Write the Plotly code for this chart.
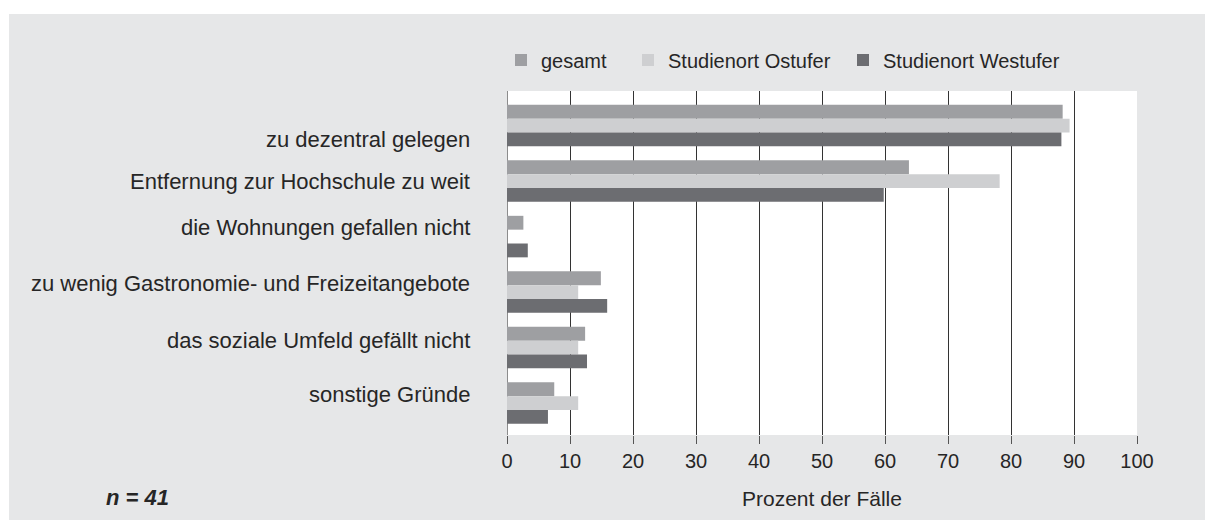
import plotly.graph_objects as go

# Gründe gegen den Wohnstandort (Prozent der Fälle, Mehrfachnennungen)
categories = [
    "zu dezentral gelegen",
    "Entfernung zur Hochschule zu weit",
    "die Wohnungen gefallen nicht",
    "zu wenig Gastronomie- und Freizeitangebote",
    "das soziale Umfeld gefällt nicht",
    "sonstige Gründe",
]
gesamt = [88.2, 63.8, 2.6, 14.9, 12.4, 7.5]
ostufer = [89.3, 78.2, 0.0, 11.3, 11.3, 11.3]
westufer = [88.0, 59.8, 3.3, 15.9, 12.7, 6.5]
series_names = ["gesamt", "Studienort Ostufer", "Studienort Westufer"]
x_ticks = list(range(0, 101, 10))
sample_note = "n = 41"
x_title = "Prozent der Fälle"

# page geometry (px)
W, H = 1205, 520
ML, MR, MT, MB = 507, 68, 91, 85
PW, PH = W - ML - MR, H - MT - MB


def px_x(px):
    return (px - ML) / PW


def px_y(py):
    return 1 - (py - MT) / PH


FONT = "Liberation Sans, Arial, sans-serif"
TEXT = "#262626"
PANEL = "#e6e7e8"
colors = ["#9e9fa2", "#cecfd1", "#6c6d71"]
legend_ids = ["legend", "legend2", "legend3"]
legend_text_px = [541, 668, 883]
# vertical nudge of each category label relative to its bar group
label_shift = [-14, 0, 9, 9, 7, 9]

fig = go.Figure()
for name, vals, col, lg in zip(series_names, [gesamt, ostufer, westufer], colors, legend_ids):
    fig.add_trace(go.Bar(
        y=list(range(len(categories))), x=vals, name=name, orientation="h",
        marker=dict(color=col, line=dict(width=0)), legend=lg,
        hoverinfo="x+name",
    ))

for i, cat in enumerate(categories):
    fig.add_annotation(
        x=0, xref="x", y=i, yref="y", text=cat, showarrow=False,
        xanchor="right", yanchor="middle", xshift=-35, yshift=label_shift[i],
        font=dict(family=FONT, size=22, color=TEXT),
    )

fig.add_annotation(
    x=0.5, xref="paper", y=px_y(498), yref="paper", text=x_title, showarrow=False,
    xanchor="center", yanchor="middle", font=dict(family=FONT, size=21, color=TEXT),
)
fig.add_annotation(
    x=px_x(137), xref="paper", y=px_y(497), yref="paper",
    text="<b><i>" + sample_note + "</i></b>", showarrow=False,
    xanchor="center", yanchor="middle", font=dict(family=FONT, size=22, color=TEXT),
)

# white page border above and left of the grey panel
fig.add_shape(type="rect", xref="paper", yref="paper", x0=px_x(-5), x1=px_x(W + 5),
              y0=px_y(14), y1=px_y(-5), fillcolor="white", line=dict(width=0), layer="above")
fig.add_shape(type="rect", xref="paper", yref="paper", x0=px_x(-5), x1=px_x(9),
              y0=px_y(H + 5), y1=px_y(-5), fillcolor="white", line=dict(width=0), layer="above")

legend_common = dict(orientation="h", yanchor="middle", xanchor="left",
                     bgcolor="rgba(0,0,0,0)", font=dict(family=FONT, size=20, color=TEXT),
                     y=px_y(60))
layout_legends = {}
for lg, tx in zip(legend_ids, legend_text_px):
    layout_legends[lg] = dict(legend_common, x=px_x(tx - 40))

fig.update_layout(
    width=W, height=H,
    margin=dict(l=ML, r=MR, t=MT, b=MB, pad=0),
    paper_bgcolor=PANEL, plot_bgcolor="white",
    barmode="group", bargap=0.252, bargroupgap=0,
    showlegend=True,
    font=dict(family=FONT, color=TEXT),
    xaxis=dict(
        range=[0, 100], tickvals=x_ticks, ticktext=[str(t) for t in x_ticks],
        showgrid=True, gridcolor="#333333", gridwidth=1,
        zeroline=True, zerolinecolor="#8c8c8c", zerolinewidth=1,
        ticks="outside", ticklen=8, tickcolor="#555555", tickwidth=1,
        showline=False, tickfont=dict(family=FONT, size=20, color=TEXT),
        fixedrange=True,
    ),
    yaxis=dict(
        range=[5.575, -0.623], showticklabels=False, showgrid=False,
        zeroline=False, showline=False, ticks="", fixedrange=True,
    ),
    **layout_legends,
)

fig.write_html("out.html")
